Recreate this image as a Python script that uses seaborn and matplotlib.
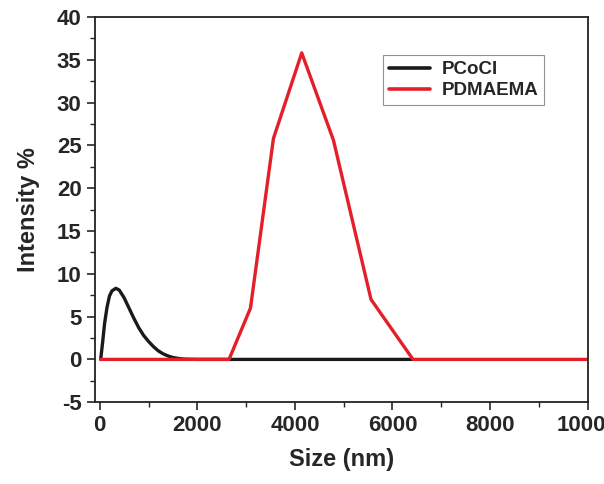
import matplotlib
matplotlib.use("Agg")
import matplotlib.pyplot as plt
import numpy as np
import pandas as pd
import seaborn as sns
from matplotlib.ticker import MultipleLocator

# PCoCl size distribution
pcocl_size = [20, 60, 100, 150, 200, 250, 330, 400, 500, 600, 700, 800, 900,
              1000, 1100, 1200, 1300, 1400, 1500, 1600, 1700, 1800, 2000, 6400]
pcocl_int = [0, 2.0, 4.2, 6.1, 7.4, 8.0, 8.3, 8.1, 7.2, 6.0, 4.8, 3.7, 2.8,
             2.1, 1.5, 1.0, 0.65, 0.4, 0.22, 0.12, 0.05, 0.02, 0, 0]

# PDMAEMA size distribution
pdm_size = [20, 2650, 3090, 3560, 4140, 4790, 5560, 6420, 10000]
pdm_int = [0, 0, 6.0, 25.8, 35.8, 25.6, 7.0, 0, 0]

df = pd.concat([
    pd.DataFrame({"size": pcocl_size, "intensity": pcocl_int, "sample": "PCoCl"}),
    pd.DataFrame({"size": pdm_size, "intensity": pdm_int, "sample": "PDMAEMA"}),
])

sns.set_style("ticks")
plt.rcParams['font.family'] = ['Liberation Sans', 'DejaVu Sans']
plt.rcParams['font.weight'] = 'bold'
plt.rcParams['axes.unicode_minus'] = False

fig = plt.figure(figsize=(6.04, 4.84), dpi=100)
ax = fig.add_axes([0.157, 0.169, 0.816, 0.796])

sns.lineplot(data=df, x="size", y="intensity", hue="sample", sort=False,
             palette={"PCoCl": "#1a1a1a", "PDMAEMA": "#e3202a"},
             linewidth=2.4, ax=ax, estimator=None)

ax.set_xlim(-100, 10000)
ax.set_ylim(-5, 40)
ax.xaxis.set_major_locator(MultipleLocator(2000))
ax.xaxis.set_minor_locator(MultipleLocator(1000))
ax.yaxis.set_major_locator(MultipleLocator(5))
ax.yaxis.set_minor_locator(MultipleLocator(2.5))
ax.tick_params(which="major", direction="out", length=6, width=1.2,
               labelsize=16)
ax.tick_params(which="minor", direction="out", length=3.5, width=1.0)
for lbl in ax.get_xticklabels() + ax.get_yticklabels():
    lbl.set_fontweight("bold")
for s in ax.spines.values():
    s.set_linewidth(1.3)
    s.set_color("#222222")
    s.set_visible(True)

ax.set_xlabel("Size (nm)", fontsize=17, fontweight="bold", labelpad=8)
ax.set_ylabel("Intensity %", fontsize=17, fontweight="bold", labelpad=12)

leg = ax.legend(title=None, loc="upper left", bbox_to_anchor=(0.585, 0.9),
                borderaxespad=0, fontsize=13.5, frameon=True, fancybox=False,
                handlelength=2.2, borderpad=0.3, labelspacing=0.2,
                handletextpad=0.6)
leg.get_frame().set_edgecolor("#777777")
leg.get_frame().set_linewidth(0.8)
for t in leg.get_texts():
    t.set_fontweight("bold")
for l in leg.get_lines():
    l.set_linewidth(2.6)
leg.get_texts()[0].set_text("PCoCI")

fig.savefig("out.png", dpi=100)
